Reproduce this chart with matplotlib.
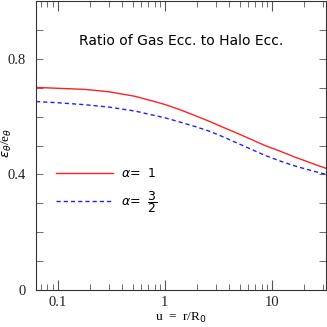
import numpy as np
import matplotlib
matplotlib.use('Agg')
import matplotlib.pyplot as plt
from matplotlib.lines import Line2D
from matplotlib.ticker import LogLocator, MultipleLocator, FixedLocator, FixedFormatter, NullFormatter

# values
u = [0.0625, 0.1, 0.181, 0.3, 0.53, 0.714, 1.0, 1.36, 1.9, 2.59, 3.5, 4.7,
     6.5, 8.6, 12.0, 16.4, 23.0, 32.0]
ratio_a1 = [0.701, 0.698, 0.694, 0.686, 0.670, 0.657, 0.642, 0.625, 0.604, 0.584, 0.563, 0.543,
            0.520, 0.500, 0.480, 0.460, 0.440, 0.421]
ratio_a32 = [0.652, 0.648, 0.641, 0.633, 0.619, 0.608, 0.596, 0.582, 0.566, 0.550, 0.530, 0.509,
             0.486, 0.466, 0.446, 0.429, 0.414, 0.400]

xticks = [0.1, 1, 10]
xticklabels = ['0.1', '1', '10']
yticks = [0, 0.4, 0.8]
yticklabels = ['0', '0.4', '0.8']

serif = 'Liberation Serif'
dash = (0, (3, 2.2))

fig = plt.figure(figsize=(3.27, 3.27), dpi=100)
ax = fig.add_axes([0.110, 0.113, 0.887, 0.884])

ax.plot(u, ratio_a1, color='#ff2020', lw=1.0)
ax.plot(u, ratio_a32, color='#2020ff', lw=1.0, ls=dash)

ax.set_xscale('log')
ax.set_xlim(0.0625, 32)
ax.set_ylim(0, 1.0)

ax.xaxis.set_major_locator(FixedLocator(xticks))
ax.xaxis.set_major_formatter(FixedFormatter(xticklabels))
ax.xaxis.set_minor_locator(LogLocator(base=10, subs=np.arange(2, 10)))
ax.xaxis.set_minor_formatter(NullFormatter())
ax.yaxis.set_major_locator(FixedLocator(yticks))
ax.yaxis.set_major_formatter(FixedFormatter(yticklabels))
ax.yaxis.set_minor_locator(MultipleLocator(0.1))

ax.tick_params(which='both', direction='in', top=True, right=True, color='#555555')
ax.tick_params(which='major', axis='x', length=7, width=0.8)
ax.tick_params(which='minor', axis='x', length=4, width=0.6)
ax.tick_params(which='both', axis='y', length=5, width=0.6)
ax.tick_params(which='major', labelsize=10.5, labelcolor='#222222')
ax.tick_params(axis='x', which='major', pad=4)
ax.tick_params(axis='y', which='major', pad=7)
for lab in ax.get_xticklabels() + ax.get_yticklabels():
    lab.set_family(serif)
for s in ax.spines.values():
    s.set_linewidth(0.8)
    s.set_color('#333333')

ax.set_xlabel(r'u  =  r/R$_0$', family=serif, fontsize=9.5)
ax.xaxis.set_label_coords(0.5, -0.073)
ax.set_ylabel(r'$\epsilon_\theta$/e$_\theta$', family=serif, fontsize=9.5)
ax.yaxis.set_label_coords(-0.076, 0.51)

ax.text(0.5, 0.86, 'Ratio of Gas Ecc. to Halo Ecc.', transform=ax.transAxes,
        ha='center', va='center', fontsize=10)

handles = [Line2D([], [], color='#ff2020', lw=1.0),
           Line2D([], [], color='#2020ff', lw=1.0, ls=dash)]
labels = [r'$\alpha$=  1', r'$\alpha$=  $\dfrac{3}{2}$']
ax.legend(handles, labels, loc='upper left', bbox_to_anchor=(0.03, 0.465),
          frameon=False, fontsize=9, handlelength=4.6, handletextpad=0.6,
          labelspacing=0.75)

plt.savefig('out.png', dpi=100)
